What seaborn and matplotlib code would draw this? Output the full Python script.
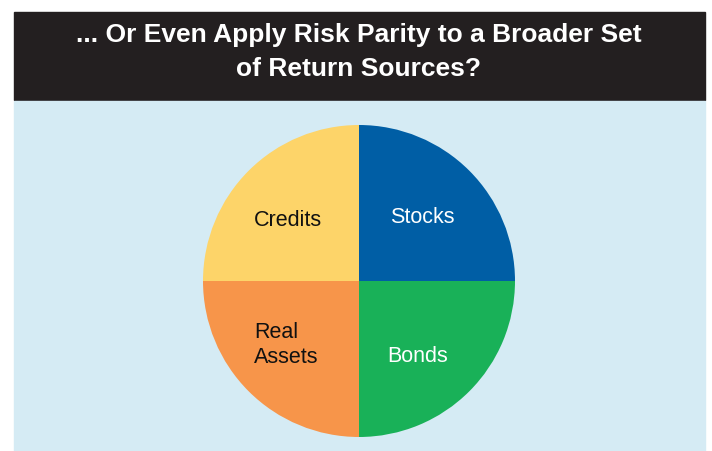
import numpy as np
import matplotlib
matplotlib.use("Agg")
import matplotlib.pyplot as plt
import seaborn as sns
from matplotlib.patches import Rectangle

# -------------------------------
# Data
# -------------------------------
sources = ["Stocks", "Credits", "Real\nAssets", "Bonds"]
weights = [25, 25, 25, 25]
colors = ["#005ea5", "#fdd469", "#f7954a", "#19b158"]
text_colors = ["white", "#111111", "#111111", "white"]

title_lines = ["... Or Even Apply Risk Parity to a Broader Set", "of Return Sources?"]

# label anchors (axes units, pie radius = 1) and alignment
label_xy = [(0.404, 0.41), (-0.455, 0.391), (-0.673, -0.41), (0.378, -0.481)]
label_ha = ["center", "center", "left", "center"]

sns.set_style("white")
plt.rcParams["font.family"] = ["Liberation Sans", "DejaVu Sans"]

W, H = 712, 451
fig = plt.figure(figsize=(W / 100, H / 100), dpi=100)
fig.patch.set_facecolor("white")

# background panels (behind the pie axes)
fig.patches.append(Rectangle((14 / W, 1 - 100 / H), 691 / W, 88 / H,
                             transform=fig.transFigure, color="#231f20", zorder=-5))
fig.patches.append(Rectangle((14 / W, 0), 691 / W, 1 - 101 / H,
                             transform=fig.transFigure, color="#d5ebf4", zorder=-5))

for line, base in zip(title_lines, [42, 76]):
    fig.text(359 / W, 1 - base / H, line, ha="center", va="baseline", color="white",
             fontsize=19, fontweight="bold")

# -------------------------------
# Pie
# -------------------------------
cx, cy, r = 359, 281, 156
ax = fig.add_axes([(cx - r) / W, (H - cy - r) / H, 2 * r / W, 2 * r / H])
ax.patch.set_alpha(0)
wedges, _ = ax.pie(weights, colors=colors, startangle=0, counterclock=True,
                   wedgeprops=dict(linewidth=0))
ax.set_xlim(-1, 1)
ax.set_ylim(-1, 1)
ax.set_aspect("equal")
ax.axis("off")

for lab, tc, (x, y), ha in zip(sources, text_colors, label_xy, label_ha):
    ax.text(x, y, lab, ha=ha, va="center", color=tc, fontsize=15.5, linespacing=1.22)

plt.savefig("out.png", dpi=100)
